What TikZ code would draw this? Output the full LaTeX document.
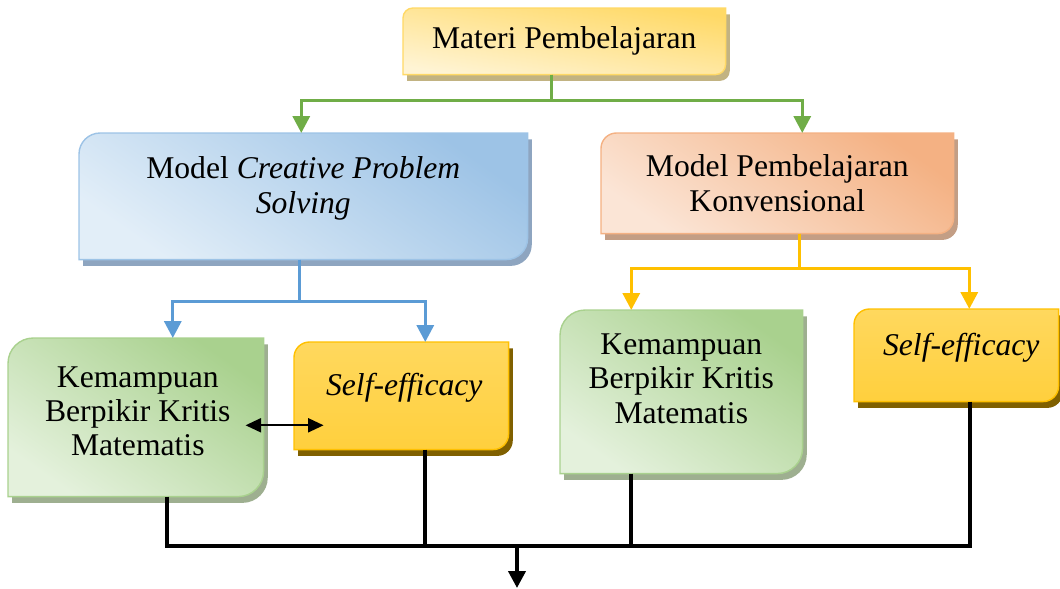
\documentclass[tikz,border=0pt]{standalone}
\usepackage{fontspec}
\setmainfont{Liberation Serif}
\usetikzlibrary{arrows.meta,backgrounds}

\definecolor{matA}{HTML}{FFD966}
\definecolor{matB}{HTML}{FFF4D4}
\definecolor{matS}{HTML}{C2B382}
\definecolor{cpsA}{HTML}{9DC3E6}
\definecolor{cpsB}{HTML}{E2EEF8}
\definecolor{cpsS}{HTML}{8EA5C0}
\definecolor{konA}{HTML}{F4B183}
\definecolor{konB}{HTML}{FBE5D6}
\definecolor{konS}{HTML}{C39E85}
\definecolor{kbkA}{HTML}{A9D18E}
\definecolor{kbkB}{HTML}{E4F1DC}
\definecolor{kbkS}{HTML}{9EAF90}
\definecolor{seA}{HTML}{FFD85E}
\definecolor{seB}{HTML}{FFC000}
\definecolor{seS}{HTML}{806000}
\definecolor{lnG}{HTML}{70AD47}
\definecolor{lnB}{HTML}{5B9BD5}
\definecolor{lnY}{HTML}{FFC000}

\newcommand\pu{0.025cm}
% box outline: top left and bottom right corners rounded
\newcommand\diagpath[4]{([xshift=#3,yshift=#4-#2]#1.north west) arc[start angle=180,end angle=90,radius=#2]
  -- ([xshift=#3,yshift=#4]#1.north east)
  -- ([xshift=#3,yshift=#4+#2]#1.south east) arc[start angle=0,end angle=-90,radius=#2]
  -- ([xshift=#3,yshift=#4]#1.south west) -- cycle}
\newcommand\diagbox[4]{%
  \fill[#4] \diagpath{#1}{#2}{3pt}{-4.5pt};
  \shadedraw[line width=1pt,#3] \diagpath{#1}{#2}{0pt}{0pt};}

\tikzset{
  box/.style={rectangle, inner sep=0pt, anchor=north west},
  txt/.style={align=center, font=\fontsize{22.5}{24.5}\selectfont},
  matfl/.style={draw=matA, top color=matA, bottom color=matB, shading angle=-10},
  cpsfl/.style={draw=cpsA, top color=cpsA, bottom color=cpsB, shading angle=-35},
  konfl/.style={draw=konA, top color=konA, bottom color=konB, shading angle=-35},
  kbkfl/.style={draw=kbkA, top color=kbkA, bottom color=kbkB, shading angle=-35},
  sefl/.style={draw=seB, top color=seA, middle color=seB, bottom color=seB!35!seA},
  tip/.style={-{Triangle[width=12pt,length=12pt]}},
  grnln/.style={draw=lnG, line width=2.4pt, tip},
  bluln/.style={draw=lnB, line width=2.4pt, tip},
  yelln/.style={draw=lnY, line width=2.4pt, tip},
  blkln/.style={draw=black, line width=2.8pt}
}

\begin{document}
\begin{tikzpicture}[x=\pu, y=-\pu]
  \useasboundingbox (0,0) rectangle (1060,588);

  \node[box, minimum width=322*\pu, minimum height=66*\pu,
    label={[txt]center:Materi Pembelajaran}] (mat) at (403,8) {};
  \node[box, minimum width=448*\pu, minimum height=126*\pu,
    label={[txt,yshift=8*\pu]center:{Model \textit{Creative Problem}\\\textit{Solving}}}] (cps) at (79,133) {};
  \node[box, minimum width=352*\pu, minimum height=100*\pu,
    label={[txt]center:{Model Pembelajaran\\Konvensional}}] (konv) at (601,133) {};
  \node[box, minimum width=255*\pu, minimum height=158*\pu,
    label={[txt,xshift=2*\pu,yshift=6*\pu]center:{Kemampuan\\Berpikir Kritis\\Matematis}}] (kbkL) at (8,338) {};
  \node[box, minimum width=214*\pu, minimum height=107*\pu,
    label={[txt,xshift=3*\pu,yshift=8*\pu]center:\textit{Self-efficacy}}] (seL) at (294,342) {};
  \node[box, minimum width=242*\pu, minimum height=163*\pu,
    label={[txt,yshift=13*\pu]center:{Kemampuan\\Berpikir Kritis\\Matematis}}] (kbkR) at (560,310) {};
  \node[box, minimum width=204*\pu, minimum height=92*\pu,
    label={[txt,xshift=5*\pu,yshift=8*\pu]center:\textit{Self-efficacy}}] (seR) at (854,309) {};

  \begin{scope}[on background layer]
    \diagbox{mat}{7pt}{matfl}{matS}
    \diagbox{cps}{15pt}{cpsfl}{cpsS}
    \diagbox{konv}{11pt}{konfl}{konS}
    \diagbox{kbkL}{18pt}{kbkfl}{kbkS}
    \diagbox{seL}{11pt}{sefl}{seS}
    \diagbox{kbkR}{18pt}{kbkfl}{kbkS}
    \diagbox{seR}{11pt}{sefl}{seS}
  \end{scope}

  \draw[grnln] ([xshift=-13*\pu]mat.south) -- ++(0,26) -| ([xshift=-2*\pu]cps.north);
  \draw[grnln] ([xshift=-13*\pu]mat.south) -- ++(0,26) -| ([xshift=25*\pu]konv.north);

  \draw[bluln] ([xshift=-4*\pu]cps.south) -- ++(0,42) -| ([xshift=37*\pu]kbkL.north);
  \draw[bluln] ([xshift=-4*\pu]cps.south) -- ++(0,42) -| ([xshift=24*\pu]seL.north);

  \draw[yelln] ([xshift=22*\pu]konv.south) -- ++(0,35) -| ([xshift=-50*\pu]kbkR.north);
  \draw[yelln] ([xshift=22*\pu]konv.south) -- ++(0,35) -| ([xshift=13*\pu]seR.north);

  \draw[line width=1.3pt, {Triangle[width=10pt,length=11pt]}-{Triangle[width=10pt,length=11pt]}]
    ([shift={(-18,8)}]kbkL.east) -- ++(78,0);

  \coordinate (bus) at (517,546);
  \coordinate (out) at (517,588);
  \foreach \n/\d in {kbkL/31, seL/24, kbkR/-50, seR/14}
    \draw[blkln] ([xshift=\d*\pu]\n.south) |- (bus);
  \draw[blkln, -{Triangle[width=12pt,length=12pt]}] (bus) -- (out);
\end{tikzpicture}
\end{document}
